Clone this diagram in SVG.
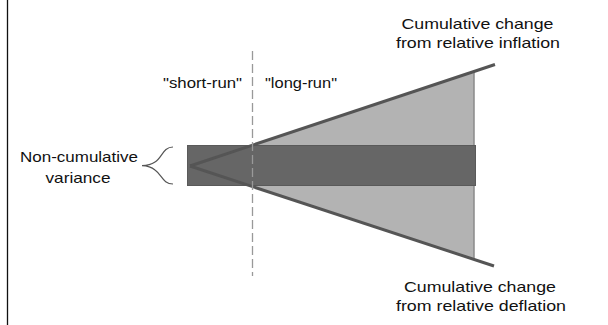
<svg xmlns="http://www.w3.org/2000/svg" width="608" height="325" viewBox="0 0 608 325">
<style>
.t{font-family:"Liberation Sans",Arial,sans-serif;font-size:15px;fill:#111;text-anchor:middle}
.ray{stroke:#555;stroke-width:3;fill:none;stroke-linecap:butt}
</style>
<rect width="608" height="325" fill="#fff"/>
<g id="border"><line x1="7.5" y1="0" x2="7.5" y2="325" stroke="#111" stroke-width="1.3"/></g>
<g id="cone">
<polygon points="190,166 474,71.5 474,259.5" fill="#b3b3b3"/>
<line x1="474" y1="71.5" x2="474" y2="259.5" stroke="#8a8a8a" stroke-width="1.5"/>
</g>
<g id="variance-band">
<rect x="187.5" y="145.5" width="288" height="40" fill="#666" stroke="#5a5a5a" stroke-width="1"/>
</g>
<g id="connectors">
<line class="ray" x1="190" y1="166" x2="495" y2="64.5"/>
<line class="ray" x1="190" y1="166" x2="494" y2="266"/>
<line x1="252.5" y1="51" x2="252.5" y2="276" stroke="#999" stroke-width="1.3" stroke-dasharray="9,4"/>
<path d="M173,147 C163,147 162,158 155,162 Q150,165.5 142,165.7 Q150,166 155,170 C162,175 163,184 173,184" fill="none" stroke="#555" stroke-width="1.2"/>
</g>
<g id="label-inflation">
<text class="t" x="477.5" y="29" textLength="152" lengthAdjust="spacingAndGlyphs">Cumulative change</text>
<text class="t" x="478" y="48" textLength="164" lengthAdjust="spacingAndGlyphs">from relative inflation</text>
</g>
<g id="label-deflation">
<text class="t" x="480" y="292" textLength="152" lengthAdjust="spacingAndGlyphs">Cumulative change</text>
<text class="t" x="481" y="310.5" textLength="170" lengthAdjust="spacingAndGlyphs">from relative deflation</text>
</g>
<g id="label-short-run">
<text class="t" x="202.5" y="88" textLength="79" lengthAdjust="spacingAndGlyphs">"short-run"</text>
</g>
<g id="label-long-run">
<text class="t" x="301" y="88" textLength="72" lengthAdjust="spacingAndGlyphs">"long-run"</text>
</g>
<g id="label-noncumulative">
<text class="t" x="79" y="162.3" textLength="118" lengthAdjust="spacingAndGlyphs">Non-cumulative</text>
<text class="t" x="78" y="183.3" textLength="65" lengthAdjust="spacingAndGlyphs">variance</text>
</g>
</svg>
